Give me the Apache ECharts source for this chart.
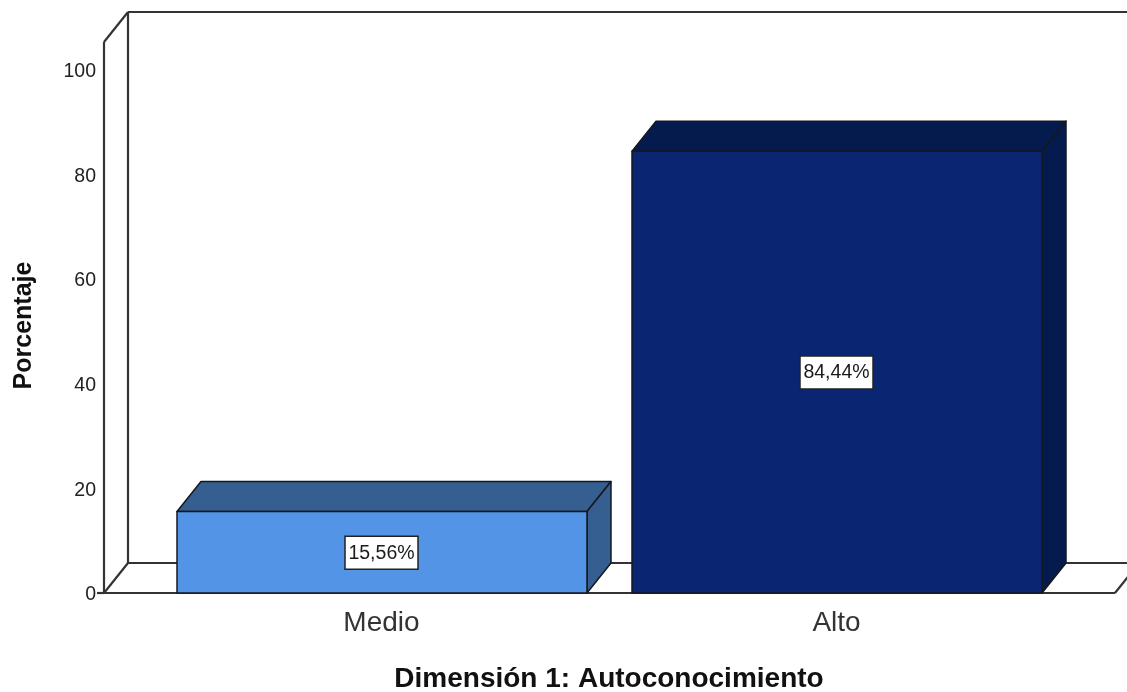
<!DOCTYPE html>
<html>
<head>
<meta charset="utf-8">
<style>html,body{margin:0;padding:0;background:#fff}#c{width:1127px;height:692px}</style>
<script src="https://cdn.jsdelivr.net/npm/echarts@6/dist/echarts.min.js"></script>
</head>
<body>
<div id="c"></div>
<script>
const categories = ['Medio', 'Alto'];
const percentages = [15.56, 84.44];
const valueLabels = ['15,56%', '84,44%'];
const frontColors = ['#5394E6', '#0A2571'];
const shadeColors = ['#355E91', '#051A4D'];
const xTitle = 'Dimensión 1: Autoconocimiento';
const yTitle = 'Porcentaje';
const yTicks = 20;
const yTop = 105.3;

const depthX = 24, depthY = -30;
const frameLeft = 50, frameRight = 51;
const lineColor = '#333333';
const edgeColor = '#14181f';
const fontName = 'Liberation Sans';

const chart = echarts.init(document.getElementById('c'), null, {renderer: 'canvas'});

function seg(x1, y1, x2, y2) {
  return {type: 'line', shape: {x1, y1, x2, y2}, style: {stroke: lineColor, lineWidth: 2.2}};
}

function renderFrame(params, api) {
  const cs = params.coordSys;
  const L = cs.x - frameLeft, R = cs.x + cs.width + frameRight;
  const T = cs.y, B = cs.y + cs.height;
  return {type: 'group', children: [
    seg(L, T, L, B),
    seg(L, T, L + depthX, T + depthY),
    seg(L + depthX, T + depthY, L + depthX, B + depthY),
    seg(L + depthX, T + depthY, R + depthX, T + depthY),
    seg(L + depthX, B + depthY, R + depthX, B + depthY),
    seg(L, B, L + depthX, B + depthY),
    seg(L, B, R, B),
    seg(R, B, R + depthX, B + depthY),
    seg(L - 7, B, L, B)
  ]};
}

function poly(points, fill) {
  return {type: 'polygon', shape: {points}, style: {fill, stroke: edgeColor, lineWidth: 1.5, lineJoin: 'round'}};
}

function renderBar(params, api) {
  const i = api.value(0);
  const top = api.coord([i, api.value(1)]);
  const base = api.coord([i, 0]);
  const w = api.size([1, 0])[0] * 0.901;
  const l = Math.round(top[0] - w / 2), r = l + Math.round(w);
  const t = top[1], b = base[1];
  const midY = (t + b) / 2;
  const dx = depthX, dy = depthY;
  return {type: 'group', children: [
    poly([[l, t], [l + dx, t + dy], [r + dx, t + dy], [r, t]], shadeColors[i]),
    poly([[r, t], [r + dx, t + dy], [r + dx, b + dy], [r, b]], shadeColors[i]),
    poly([[l, t], [r, t], [r, b], [l, b]], frontColors[i]),
    {type: 'rect', shape: {x: top[0] - 36.5, y: midY - 16, width: 73, height: 33},
      style: {fill: '#fff', stroke: '#222', lineWidth: 1.5}},
    {type: 'text', x: top[0], y: midY + 1,
      style: {text: valueLabels[i], fill: '#1a1a1a', font: '19.5px ' + fontName, align: 'center', verticalAlign: 'middle'}}
  ]};
}

chart.setOption({
  animation: false,
  backgroundColor: '#fff',
  grid: {left: 154, right: 63, top: 42, bottom: 99, outerBoundsMode: 'none'},
  xAxis: {
    type: 'category', data: categories,
    axisLine: {show: false}, axisTick: {show: false}, splitLine: {show: false},
    axisLabel: {color: '#333', fontFamily: fontName, fontSize: 28, margin: 16},
    name: xTitle, nameLocation: 'middle', nameGap: 72,
    nameTextStyle: {color: '#111', fontFamily: fontName, fontWeight: 'bold', fontSize: 28}
  },
  yAxis: {
    type: 'value', min: 0, max: yTop, interval: yTicks, offset: 50,
    axisLine: {show: false}, axisTick: {show: false}, splitLine: {show: false},
    axisLabel: {
      margin: 8, showMaxLabel: false, formatter: '{t|{value}}',
      rich: {t: {color: '#222', fontFamily: fontName, fontSize: 19.5, padding: [4, 0, 0, 0]}}
    },
    name: yTitle, nameLocation: 'middle', nameGap: 67,
    nameTextStyle: {color: '#111', fontFamily: fontName, fontWeight: 'bold', fontSize: 25, padding: [0, 16, 0, 0]}
  },
  series: [
    {type: 'custom', renderItem: renderFrame, data: [[0, 0]], silent: true, z: 1, clip: false},
    {type: 'custom', renderItem: renderBar, data: categories.map((c, i) => [i, percentages[i]]), z: 2, clip: false,
      encode: {x: 0, y: 1}}
  ]
});
</script>
</body>
</html>
